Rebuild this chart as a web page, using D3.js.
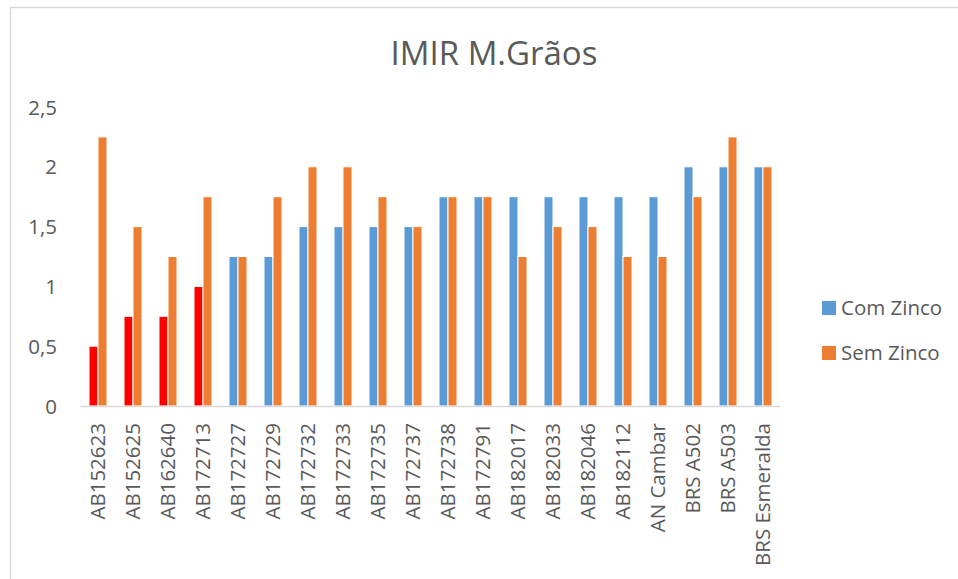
<!DOCTYPE html>
<html>
<head>
<meta charset="utf-8">
<title>IMIR M.Grãos</title>
<script src="https://d3js.org/d3.v7.min.js"></script>
<style>
  body { margin: 0; background: #fff; }
  text { font-family: "Open Sans", sans-serif; fill: #595959; }
</style>
</head>
<body>
<div id="chart"></div>
<script>
// data
var categories = ["AB152623", "AB152625", "AB162640", "AB172713", "AB172727", "AB172729",
  "AB172732", "AB172733", "AB172735", "AB172737", "AB172738", "AB172791", "AB182017",
  "AB182033", "AB182046", "AB182112", "AN Cambar", "BRS A502", "BRS A503", "BRS Esmeralda"];
var comZinco = [0.5, 0.75, 0.75, 1, 1.25, 1.25, 1.5, 1.5, 1.5, 1.5, 1.75, 1.75, 1.75,
  1.75, 1.75, 1.75, 1.75, 2, 2, 2];
var semZinco = [2.25, 1.5, 1.25, 1.75, 1.25, 1.75, 2, 2, 1.75, 1.5, 1.75, 1.75, 1.25,
  1.5, 1.5, 1.25, 1.25, 1.75, 2.25, 2];
var seriesNames = ["Com Zinco", "Sem Zinco"];
var yTicks = [0, 0.5, 1, 1.5, 2, 2.5];
// first four "Com Zinco" bars are highlighted red in the original
var highlighted = ["AB152623", "AB152625", "AB162640", "AB172713"];

var W = 958, H = 579;
var colors = { "Com Zinco": "#5B9BD5", "Sem Zinco": "#ED7D31" };
var fontSize = "20.5px";

var svg = d3.select("#chart").append("svg")
  .attr("width", W).attr("height", H);

// chart frame (only left/top edges visible)
svg.append("rect")
  .attr("x", 10.5).attr("y", 7.5)
  .attr("width", W + 20).attr("height", H + 20)
  .attr("fill", "#fff").attr("stroke", "#D9D9D9").attr("stroke-width", 1.5);

var x0 = d3.scaleBand().domain(categories).range([80, 780]);
var x1 = d3.scaleBand().domain(seriesNames).range([9, 27]);
var y = d3.scaleLinear().domain([0, 2.5]).range([406, 107]);

var rows = categories.map(function (c, i) {
  return { cat: c, values: [
    { name: "Com Zinco", v: comZinco[i] },
    { name: "Sem Zinco", v: semZinco[i] }
  ] };
});

var groups = svg.selectAll("g.cat")
  .data(rows).enter().append("g")
  .attr("class", "cat")
  .attr("transform", function (d) { return "translate(" + x0(d.cat) + ",0)"; });

groups.selectAll("rect")
  .data(function (d) { return d.values.map(function (s) { return { cat: d.cat, name: s.name, v: s.v }; }); })
  .enter().append("rect")
  .attr("x", function (d) { return x1(d.name); })
  .attr("width", x1.bandwidth())
  .attr("y", function (d) { return y(d.v); })
  .attr("height", function (d) { return y(0) - y(d.v); })
  .attr("fill", function (d) {
    if (d.name === "Com Zinco" && highlighted.indexOf(d.cat) >= 0) return "#FF0000";
    return colors[d.name];
  })
  .attr("stroke", "#fff").attr("stroke-width", 1);

// y axis labels, no line
var yAxis = d3.axisLeft(y).tickValues(yTicks).tickSize(0).tickPadding(0)
  .tickFormat(function (d) { return String(d).replace(".", ","); });
var gy = svg.append("g").attr("transform", "translate(57,0)").call(yAxis);
gy.select(".domain").remove();
gy.selectAll("text").style("font-size", fontSize).attr("fill", "#595959").attr("dy", "0.35em");

// x axis
var xAxis = d3.axisBottom(x0).tickSize(0).tickPadding(0);
var gx = svg.append("g").attr("transform", "translate(0,406)").call(xAxis);
gx.select(".domain").attr("stroke", "#D9D9D9").attr("stroke-width", 1.5);
gx.selectAll("text")
  .style("font-size", fontSize).attr("fill", "#595959")
  .attr("text-anchor", "end")
  .attr("transform", "rotate(-90)")
  .attr("x", -17).attr("y", 0).attr("dy", "0.35em");

// title
svg.append("text")
  .attr("x", 494).attr("y", 65)
  .attr("text-anchor", "middle")
  .style("font-size", "33px")
  .text("IMIR M.Grãos");

// legend
var legend = svg.selectAll("g.leg")
  .data(seriesNames).enter().append("g")
  .attr("class", "leg")
  .attr("transform", function (d, i) { return "translate(822," + (308 + i * 45) + ")"; });
legend.append("rect")
  .attr("x", 0).attr("y", -7).attr("width", 14).attr("height", 14)
  .attr("fill", function (d) { return colors[d]; });
legend.append("text")
  .attr("x", 19).attr("y", 0).attr("dy", "0.35em")
  .style("font-size", fontSize)
  .text(function (d) { return d; });
</script>
</body>
</html>
